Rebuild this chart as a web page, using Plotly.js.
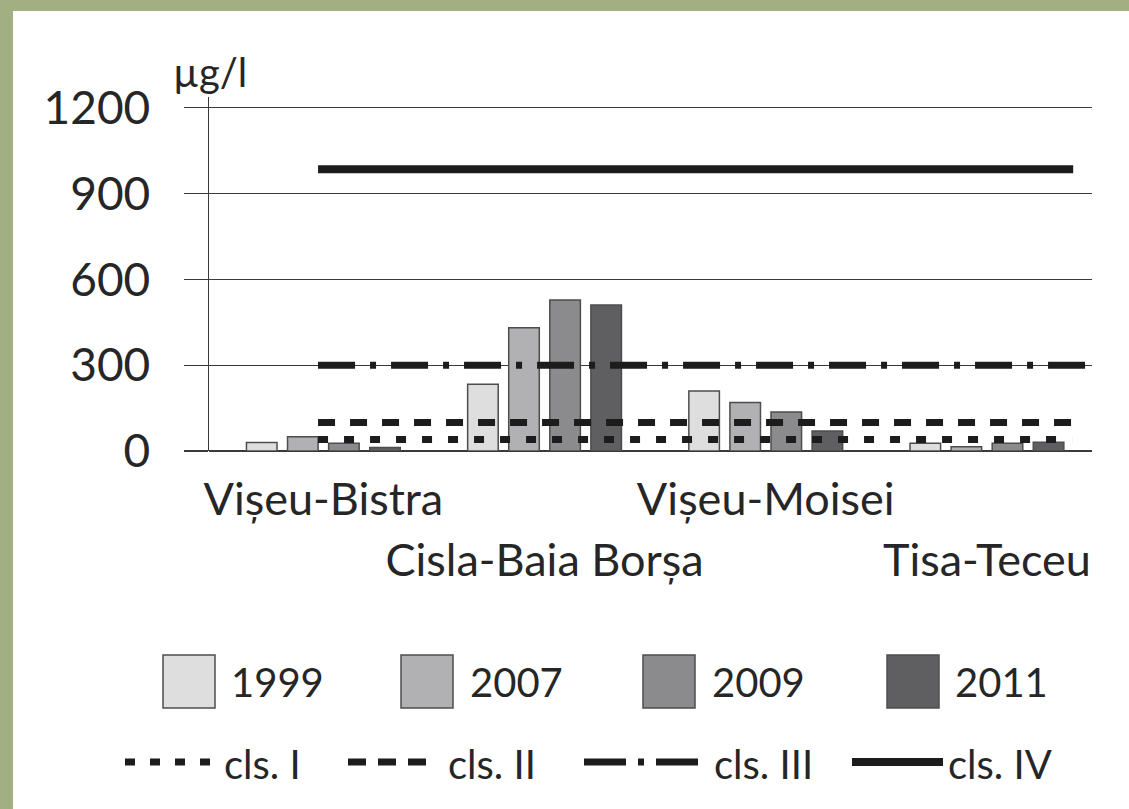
<!DOCTYPE html>
<html>
<head>
<meta charset="utf-8">
<script src="https://cdn.plot.ly/plotly-3.0.1.min.js"></script>
<style>html,body{margin:0;padding:0;background:#fff;}#chart{width:1129px;height:809px;}</style>
</head>
<body>
<div id="chart"></div>
<script>
// ---- data ----
const categories = ['Vișeu-Bistra', 'Cisla-Baia Borșa', 'Vișeu-Moisei', 'Tisa-Teceu'];
const years = ['1999', '2007', '2009', '2011'];
const v1999 = [30, 233, 210, 27];
const v2007 = [50, 431, 170, 15];
const v2009 = [27, 528, 136, 27];
const v2011 = [12, 511, 70, 31];
const classNames = ['cls. I', 'cls. II', 'cls. III', 'cls. IV'];
const classLimits = [40, 100, 300, 985];
const yTicks = [0, 300, 600, 900, 1200];
const unitLabel = 'µg/l';

// ---- styles ----
const barColors = ['#dedede', '#b1b1b3', '#8b8b8d', '#5f5f61'];
const barLine = '#4d4d4d';
const classDash = ['10px,16px', '17px,15px', '37px,15px,6px,15px', 'solid'];
const classWidth = [7, 7, 7, 8];
const classSpan = [[-0.024, 3.385], [-0.024, 3.39], [-0.024, 3.6], [-0.024, 3.39]];
const legendDash = ['10px,15px', '18px,12px', '42px,12px,6px,12px', 'solid'];
const ink = '#262626';
const gridCol = '#3a3a3a';

const seriesValues = [v1999, v2007, v2009, v2011];

// pixel -> paper helpers (plot area: x 209..1092, y 97..451)
const PL = 209, PR = 1092, PT = 97, PB = 451;
const fx = p => (p - PL) / (PR - PL);
const fy = p => (PB - p) / (PB - PT);

const traces = [];
years.forEach((yr, i) => {
  traces.push({
    type: 'bar', name: yr, x: categories, y: seriesValues[i],
    marker: {color: barColors[i], line: {color: barLine, width: 1.5}},
    hoverinfo: 'x+y+name'
  });
});
classNames.forEach((nm, i) => {
  traces.push({
    type: 'scatter', mode: 'lines', name: nm, xaxis: 'x2', yaxis: 'y',
    x: classSpan[i], y: [classLimits[i], classLimits[i]],
    line: {color: '#1c1c1c', width: classWidth[i], dash: classDash[i]}
  });
});

const shapes = [{
  type: 'rect', xref: 'paper', yref: 'paper', layer: 'below',
  x0: fx(13), x1: fx(1140), y0: fy(830), y1: fy(11),
  fillcolor: '#ffffff', line: {width: 0}
}];
const annotations = [{
  xref: 'paper', yref: 'paper', x: fx(171), y: fy(72), xanchor: 'left', yanchor: 'middle',
  text: unitLabel, showarrow: false, font: {size: 40, color: ink}
}];

const boxX = [163, 401, 643, 887];
const boxTextX = [229, 468, 710, 953];
years.forEach((yr, i) => {
  shapes.push({
    type: 'rect', xref: 'paper', yref: 'paper',
    x0: fx(boxX[i]), x1: fx(boxX[i] + 52), y0: fy(708), y1: fy(655),
    fillcolor: barColors[i], line: {color: barLine, width: 1.5}
  });
  annotations.push({
    xref: 'paper', yref: 'paper', x: fx(boxTextX[i]), y: fy(682), xanchor: 'left', yanchor: 'middle',
    text: yr, showarrow: false, font: {size: 40, color: ink}
  });
});
const lineX = [[125, 214], [348, 427], [584, 699], [852, 943]];
const lineTextX = [222, 446, 712, 946];
classNames.forEach((nm, i) => {
  shapes.push({
    type: 'line', xref: 'paper', yref: 'paper',
    x0: fx(lineX[i][0]), x1: fx(lineX[i][1]), y0: fy(762), y1: fy(762),
    line: {color: '#1c1c1c', width: classWidth[i], dash: legendDash[i]}
  });
  annotations.push({
    xref: 'paper', yref: 'paper', x: fx(lineTextX[i]), y: fy(764), xanchor: 'left', yanchor: 'middle',
    text: nm, showarrow: false, font: {size: 40, color: ink}
  });
});

const xr = [-0.517, 3.475];
const layout = {
  width: 1129, height: 809,
  margin: {l: PL, r: 1129 - PR, t: PT, b: 809 - PB, pad: 0},
  paper_bgcolor: '#a2af82',
  plot_bgcolor: 'rgba(0,0,0,0)',
  font: {family: 'Lato, "Open Sans", sans-serif', color: ink},
  barmode: 'group', bargap: 0.257, bargroupgap: 0.256,
  showlegend: false,
  xaxis: {
    type: 'category', categoryarray: categories, categoryorder: 'array', range: xr,
    tickmode: 'array', tickvals: [categories[0], categories[2]], ticktext: [categories[0], categories[2]],
    ticks: '', showgrid: false, showline: false, zeroline: false,
    tickfont: {size: 45, color: ink}, ticklabelstandoff: 18, fixedrange: true
  },
  xaxis2: {
    type: 'linear', overlaying: 'x', anchor: 'y', side: 'bottom', range: xr,
    tickmode: 'array', tickvals: [1, 3], ticktext: [categories[1], categories[3]],
    ticks: '', showgrid: false, showline: false, zeroline: false,
    tickfont: {size: 45, color: ink}, ticklabelstandoff: 79, fixedrange: true
  },
  yaxis: {
    range: [0, 1238], tickmode: 'array', tickvals: yTicks,
    showgrid: true, gridcolor: gridCol, gridwidth: 1.2,
    zeroline: true, zerolinecolor: gridCol, zerolinewidth: 1.5,
    showline: true, linecolor: gridCol, linewidth: 1.5,
    ticks: 'outside', ticklen: 24, tickcolor: gridCol, tickwidth: 1.2,
    tickfont: {size: 46, color: ink}, ticklabelstandoff: 24, fixedrange: true
  },
  shapes: shapes,
  annotations: annotations
};

Plotly.newPlot('chart', traces, layout, {displayModeBar: false, staticPlot: true});
</script>
</body>
</html>
